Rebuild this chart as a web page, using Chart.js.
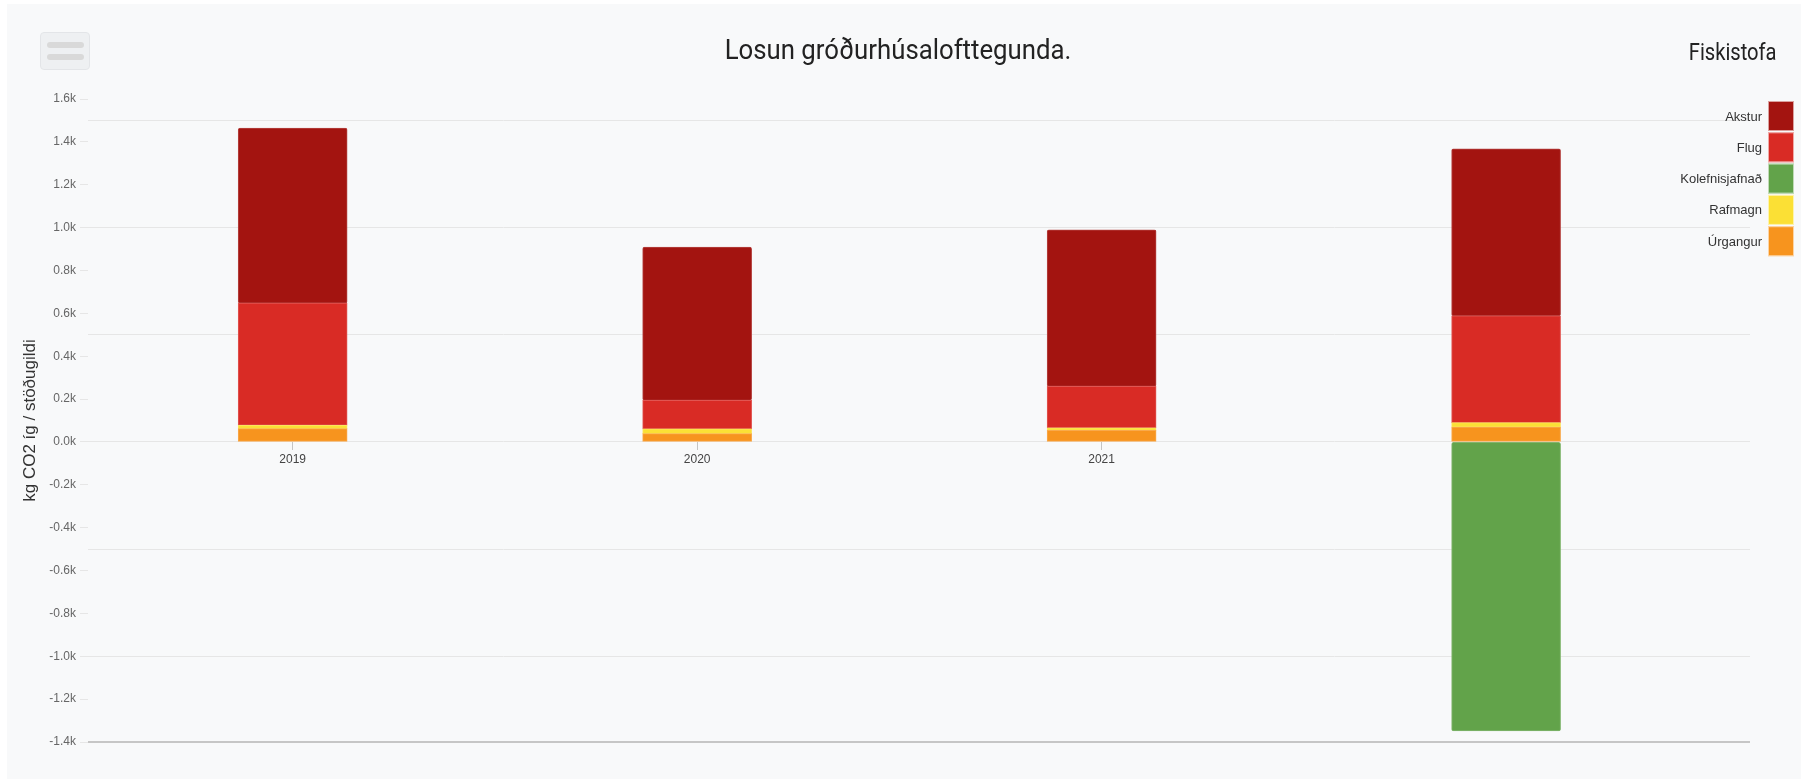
<!DOCTYPE html>
<html>
<head>
<meta charset="utf-8">
<script src="https://cdn.jsdelivr.net/npm/chart.js@4.4.1/dist/chart.umd.min.js"></script>
<style>
  html, body { margin: 0; background: #fff; }
  #wrap { position: absolute; left: 7px; top: 4px; width: 1794px; height: 775px; background: #f8f9fa; }
  #chart { position: absolute; left: 0; top: 0; }
  .menu { position: absolute; left: 40px; top: 32px; width: 48px; height: 36px; border-radius: 4px;
          background: #eef0f2; border: 1px solid #e3e5e8; }
  .menu span { position: absolute; left: 6px; width: 37px; height: 6px; border-radius: 3px; background: #d9d9d9; }
  .menu span:first-child { top: 9px; }
  .menu span:last-child { top: 21px; }
  #title { position: absolute; left: 598px; top: 36px; width: 600px; text-align: center;
           font: 28px/28px "Roboto", sans-serif; color: #222;
           transform: scaleX(0.92); transform-origin: 50% 50%; }
  #org { position: absolute; right: 31px; top: 40px; text-align: right;
         font: 24px/24px "Roboto", sans-serif; color: #222;
         transform: scaleX(0.84); transform-origin: 100% 50%; }
</style>
</head>
<body>
<div id="wrap"><canvas id="chart" width="1794" height="775"></canvas></div>
<div class="menu"><span></span><span></span></div>
<div id="title">Losun gróðurhúsalofttegunda.</div>
<div id="org">Fiskistofa</div>
<script>
const years = ["2019", "2020", "2021", "2022"];
const akstur = [816, 715, 731, 780];
const flug = [570, 133, 193, 498];
const kolefnisjofnun = [null, null, null, -1348];
const rafmagn = [16, 22, 12, 21];
const urgangur = [62, 39, 54, 69];
const legendLabels = ["Akstur", "Flug", "Kolefnisjafnað", "Rafmagn", "Úrgangur"];
const gridValues = [-1400, -1000, -500, 0, 500, 1000, 1500];
const yTitle = "kg CO2 íg / stöðugildi";

const FONT = '"Liberation Sans", Arial, sans-serif';

const toPoints = arr => arr.map((v, i) => ({ x: i, y: v }));

// light edge like the original: colour mixed a bit towards white
function tint(hex, amt) {
  const n = parseInt(hex.slice(1), 16);
  const mix = c => Math.round(c + (255 - c) * amt);
  return `rgb(${mix(n >> 16)},${mix((n >> 8) & 255)},${mix(n & 255)})`;
}

function series(label, data, color) {
  return {
    label,
    data: toPoints(data),
    backgroundColor: color,
    borderColor: tint(color, 0.2),
    borderWidth: 1,
    borderRadius: 2,
    borderSkipped: false,
    barThickness: 109
  };
}

// stacking goes bottom-up in dataset order
const datasets = [
  series("Úrgangur", urgangur, "#f7941e"),
  series("Rafmagn", rafmagn, "#fbe035"),
  series("Kolefnisjafnað", kolefnisjofnun, "#62a34a"),
  series("Flug", flug, "#d92b25"),
  series("Akstur", akstur, "#a31410")
];

// legend sits inside the plot on the right, text left of the swatch
const sideLegend = {
  id: "sideLegend",
  afterDraw(chart) {
    const ctx = chart.ctx;
    const x = 1761, y0 = 97, boxW = 26, boxH = 30, step = 31.3;
    ctx.save();
    ctx.font = "13px " + FONT;
    ctx.textAlign = "right";
    ctx.textBaseline = "middle";
    legendLabels.forEach((label, i) => {
      const ds = chart.data.datasets.find(d => d.label === label);
      const y = y0 + i * step;
      ctx.fillStyle = ds.backgroundColor;
      ctx.fillRect(x, y, boxW, boxH);
      ctx.strokeStyle = "rgba(255,255,255,0.6)";
      ctx.lineWidth = 1;
      ctx.strokeRect(x + 0.5, y + 0.5, boxW - 1, boxH - 1);
      ctx.fillStyle = "#333";
      ctx.fillText(label, x - 6, y + boxH / 2 + 1);
    });
    ctx.restore();
  }
};

new Chart(document.getElementById("chart"), {
  type: "bar",
  data: { datasets },
  plugins: [sideLegend],
  options: {
    responsive: false,
    animation: false,
    layout: { padding: { left: 7, top: 95, right: 51, bottom: 37 } },
    plugins: { legend: { display: false }, tooltip: { enabled: false } },
    scales: {
      x: {
        type: "linear",
        stacked: true,
        min: -0.506,
        max: 3.603,
        offset: false,
        position: { y: 0 },
        border: { display: false },
        grid: { drawOnChartArea: false, offset: false, tickLength: 8, color: "#c4c4c4" },
        ticks: {
          stepSize: 1, includeBounds: false, padding: 3, color: "#444",
          maxRotation: 0, autoSkip: false,
          font: { size: 12, family: FONT },
          callback: v => years[v] ?? ""
        }
      },
      y: {
        stacked: true,
        min: -1400,
        max: 1600,
        afterFit: s => { s.width = 74; },
        border: { display: false },
        grid: { drawOnChartArea: false, color: "#e6e6e6", tickLength: 8 },
        ticks: {
          stepSize: 200, padding: 4, color: "#666",
          font: { size: 12, family: FONT },
          callback: v => (v / 1000).toFixed(1) + "k"
        },
        title: {
          display: true, text: yTitle, color: "#333",
          font: { size: 17, family: FONT },
          padding: { top: 6, bottom: 0 }
        }
      },
      y2: {
        position: "left",
        min: -1400,
        max: 1600,
        afterFit: s => { s.width = 0; },
        afterBuildTicks: s => { s.ticks = gridValues.map(v => ({ value: v })); },
        border: { display: false },
        grid: {
          drawTicks: false,
          color: c => c.tick.value === -1400 ? "#c6c6c6" : "#e6e6e6",
          lineWidth: c => c.tick.value === -1400 ? 2 : 1
        },
        ticks: { display: false }
      }
    }
  }
});
</script>
</body>
</html>
